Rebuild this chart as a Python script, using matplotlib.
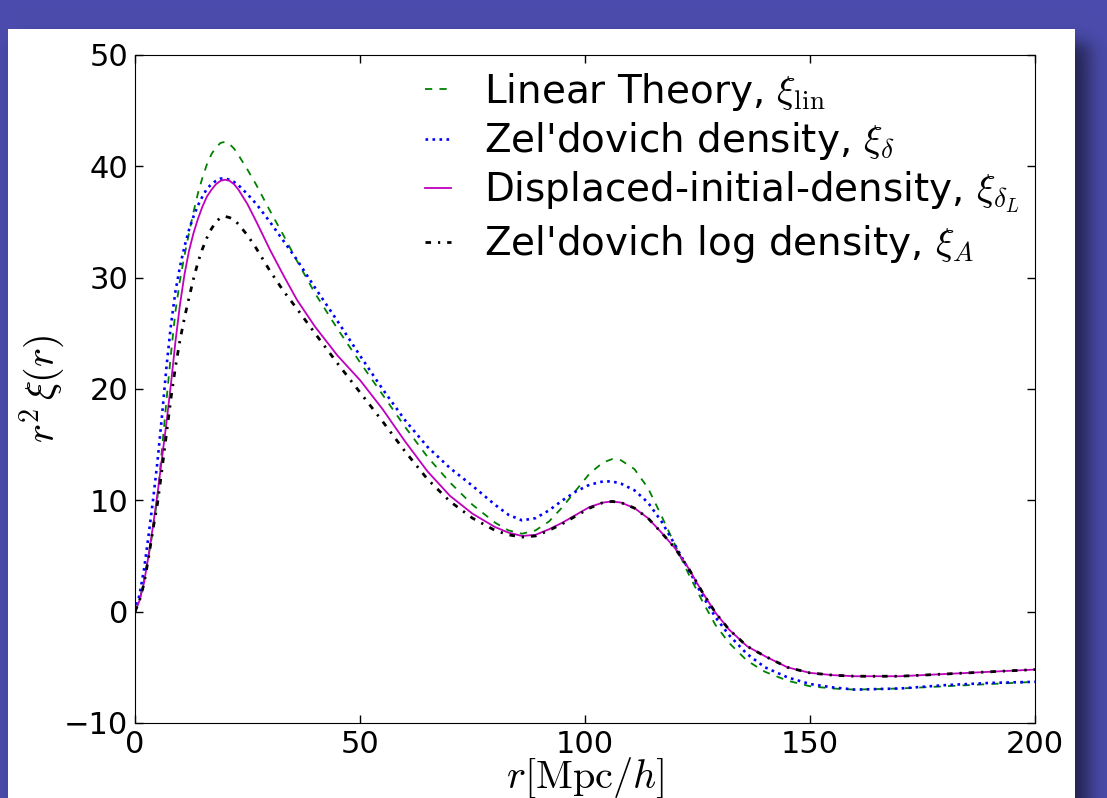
import numpy as np
import matplotlib.pyplot as plt

plt.rcParams['mathtext.fontset'] = 'cm'
plt.rcParams['font.family'] = 'DejaVu Sans'

# r in Mpc/h, values are r^2 xi(r)
r = [0, 1, 2, 3, 4, 5, 6, 7, 8, 9, 10, 11, 12, 13, 14, 15, 16, 17, 18, 19, 20, 21, 22, 23,
     25, 27, 30, 33, 36, 40, 45, 50, 55, 60, 65, 70, 75, 80,
     83, 86, 89, 92, 95, 98, 101, 104, 106, 108, 111, 114, 117, 120, 123, 126, 129, 132,
     136, 140, 145, 150, 155, 160, 170, 180, 190, 200]

xi_lin = [0, 1.0, 2.8, 5.0, 7.3, 10.3, 14.6, 19.0, 23.2, 27.0, 29.8, 32.0, 34.0, 35.9,
          37.6, 39.0, 40.2, 41.1, 41.7, 42.1, 42.2, 42.0, 41.6, 41.0,
          39.7, 38.3, 36.0, 33.8, 31.5, 28.6, 25.4, 22.4, 19.5, 16.6, 13.9, 11.6, 9.6, 8.0,
          7.3, 7.0, 7.3, 8.1, 9.4, 10.9, 12.4, 13.4, 13.7, 13.6, 12.8, 11.1, 8.6, 6.0,
          3.4, 1.0, -1.2, -2.8, -4.4, -5.4, -6.2, -6.7, -6.9, -7.0, -6.9, -6.7, -6.5, -6.3]

xi_delta = [0, 1.5, 3.8, 6.8, 10.0, 13.5, 17.6, 22.0, 25.8, 28.8, 31.0, 32.8, 34.3, 35.5,
            36.5, 37.3, 38.0, 38.4, 38.7, 38.9, 38.9, 38.8, 38.6, 38.3,
            37.5, 36.6, 35.0, 33.3, 31.6, 29.1, 26.1, 23.0, 20.0, 17.2, 14.8, 12.9, 11.3, 9.6,
            8.7, 8.2, 8.4, 9.1, 10.0, 10.8, 11.4, 11.7, 11.7, 11.5, 10.9, 9.8, 8.1, 6.0,
            3.8, 1.5, -0.5, -2.1, -3.8, -5.0, -5.9, -6.5, -6.8, -7.0, -6.9, -6.6, -6.4, -6.3]

xi_dL = [0, 1.0, 2.6, 5.0, 7.7, 10.6, 13.8, 17.0, 20.5, 24.3, 27.6, 30.3, 32.4, 34.0,
         35.3, 36.4, 37.3, 37.9, 38.4, 38.7, 38.8, 38.7, 38.4, 37.9,
         36.6, 35.0, 32.5, 30.2, 28.0, 25.6, 23.0, 20.8, 18.2, 15.3, 12.6, 10.4, 8.8, 7.6,
         7.1, 6.8, 6.9, 7.4, 8.0, 8.7, 9.4, 9.8, 9.9, 9.8, 9.3, 8.4, 7.1, 5.7,
         3.9, 1.8, -0.1, -1.6, -3.1, -4.0, -5.0, -5.5, -5.7, -5.8, -5.8, -5.6, -5.4, -5.2]

xi_A = [0, 1.0, 2.5, 4.8, 7.4, 9.7, 12.8, 16.0, 19.2, 22.0, 24.4, 26.4, 28.2, 29.9,
        31.4, 32.6, 33.6, 34.4, 35.0, 35.4, 35.5, 35.4, 35.2, 34.8,
        33.8, 32.6, 30.6, 28.8, 27.2, 25.0, 22.3, 19.7, 17.1, 14.4, 11.9, 9.9, 8.4, 7.3,
        6.9, 6.7, 6.8, 7.3, 7.9, 8.6, 9.3, 9.8, 9.9, 9.8, 9.3, 8.4, 7.1, 5.7,
        3.9, 1.8, -0.1, -1.6, -3.1, -4.0, -5.0, -5.5, -5.7, -5.8, -5.8, -5.6, -5.4, -5.2]

labels = [r'Linear Theory, $\xi_{\rm lin}$',
          r"Zel'dovich density, $\xi_{\delta}$",
          r'Displaced-initial-density, $\xi_{\delta_L}$',
          r"Zel'dovich log density, $\xi_A$"]

W, H = 1107, 798
fig = plt.figure(figsize=(W / 100, H / 100), dpi=100)

# slide background with white panel and a soft shadow on the right
bg = fig.add_axes([0, 0, 1, 1])
bg.axis('off')
yy, xx = np.mgrid[0:H, 0:W]
def soft(v, a, b, s):
    return 1 / (1 + np.exp(-(v - a) / s)) / (1 + np.exp((v - b) / s))
shadow = soft(xx, 20, 1088, 6) * soft(yy, 42, 900, 5)
purple = np.array([0.294, 0.298, 0.675])
img = purple[None, None, :] * (1 - 0.55 * shadow[..., None])
img[29:, 8:1075] = 1.0
bg.imshow(img, extent=[0, W, H, 0], aspect='auto', interpolation='bilinear')
bg.set_xlim(0, W)
bg.set_ylim(H, 0)

ax = fig.add_axes([135 / W, 1 - 723 / H, 900 / W, 668 / H])
ax.plot(r, xi_lin, color='g', lw=1.3, dashes=(4, 4), label=labels[0])
ax.plot(r, xi_delta, ':', color='b', lw=1.9, label=labels[1])
ax.plot(r, xi_dL, '-', color='m', lw=1.3, label=labels[2])
ax.plot(r, xi_A, color='k', lw=2.0, dashes=(2, 2.5, 0.8, 2.5), label=labels[3])

ax.set_xlim(0, 200)
ax.set_ylim(-10, 50)
ax.set_xticks([0, 50, 100, 150, 200])
ax.set_yticks([-10, 0, 10, 20, 30, 40, 50])
ax.tick_params(direction='in', top=True, right=True, length=6, width=1,
               labelsize=22, pad=5)
ax.set_xlabel(r'$r[{\rm Mpc}/h]$', fontsize=29, labelpad=-2)
ax.set_ylabel(r'$r^2\,\xi(r)$', fontsize=29, labelpad=-2)

ax.legend(loc='upper right', frameon=False, fontsize=28, handlelength=0.65,
          handletextpad=0.85, labelspacing=0.2, borderaxespad=0.0)

fig.savefig('out.png', dpi=100)
